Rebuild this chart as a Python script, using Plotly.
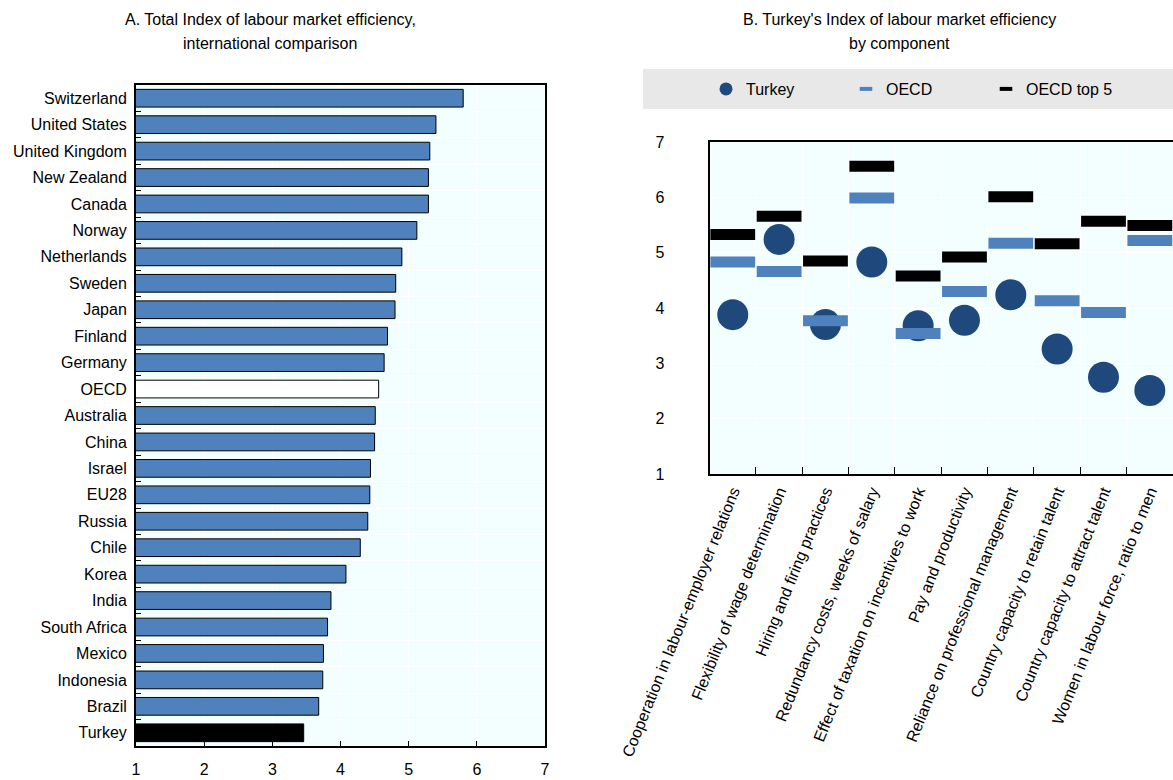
import plotly.graph_objects as go

# ---------- Panel A data ----------
countries = ["Switzerland", "United States", "United Kingdom", "New Zealand", "Canada",
             "Norway", "Netherlands", "Sweden", "Japan", "Finland", "Germany", "OECD",
             "Australia", "China", "Israel", "EU28", "Russia", "Chile", "Korea", "India",
             "South Africa", "Mexico", "Indonesia", "Brazil", "Turkey"]
total_index = [5.80, 5.40, 5.31, 5.29, 5.29, 5.12, 4.90, 4.81, 4.80, 4.69, 4.64, 4.56,
               4.51, 4.50, 4.44, 4.43, 4.40, 4.29, 4.08, 3.86, 3.81, 3.75, 3.74, 3.68, 3.46]

# ---------- Panel B data ----------
components = ["Cooperation in labour-employer relations",
              "Flexibility of wage determination",
              "Hiring and firing practices",
              "Redundancy costs, weeks of salary",
              "Effect of taxation on incentives to work",
              "Pay and productivity",
              "Reliance on professional management",
              "Country capacity to retain talent",
              "Country capacity to attract talent",
              "Women in labour force, ratio to men"]
turkey = [3.88, 5.24, 3.70, 4.83, 3.68, 3.78, 4.24, 3.26, 2.75, 2.51]
oecd = [4.83, 4.66, 3.77, 5.99, 3.54, 4.30, 5.17, 4.13, 3.92, 5.22]
oecd_top5 = [5.33, 5.66, 4.85, 6.56, 4.58, 4.92, 6.01, 5.16, 5.57, 5.49]

axis_ticks = [1, 2, 3, 4, 5, 6, 7]

W, H = 1173, 780
BLUE = "#4F81BD"
NAVY = "#1F497D"
BG = "#F3FEFF"
FONT = "Liberation Sans, Arial, sans-serif"
FS = 16

def px_x(p):
    return p / W

def px_y(p):
    return 1 - p / H

bar_colors = []
for c in countries:
    if c == "OECD":
        bar_colors.append("#FFFFFF")
    elif c == "Turkey":
        bar_colors.append("#000000")
    else:
        bar_colors.append(BLUE)

fig = go.Figure()

fig.add_trace(go.Bar(
    x=total_index, y=countries, orientation="h",
    marker=dict(color=bar_colors, line=dict(color="#000000", width=1)),
    xaxis="x", yaxis="y", showlegend=False, hoverinfo="x+y"))

fig.add_trace(go.Scatter(
    x=components, y=turkey, mode="markers", name="Turkey",
    marker=dict(symbol="circle", size=31, color=NAVY),
    xaxis="x2", yaxis="y2", showlegend=False, cliponaxis=False))
fig.add_trace(go.Scatter(
    x=components, y=oecd, mode="markers", name="OECD",
    marker=dict(symbol="line-ew", size=32, color=BLUE, line=dict(color=BLUE, width=11)),
    xaxis="x2", yaxis="y2", showlegend=False, cliponaxis=False))
fig.add_trace(go.Scatter(
    x=components, y=oecd_top5, mode="markers", name="OECD top 5",
    marker=dict(symbol="line-ew", size=32, color="#000000", line=dict(color="#000000", width=11)),
    xaxis="x2", yaxis="y2", showlegend=False, cliponaxis=False))

# legend-only entries (small symbols as in the reference legend)
fig.add_trace(go.Scatter(x=[None], y=[None], mode="markers", name="Turkey",
                         marker=dict(symbol="circle", size=13, color=NAVY),
                         xaxis="x2", yaxis="y2", showlegend=True))
fig.add_trace(go.Scatter(x=[None], y=[None], mode="markers", name="OECD",
                         marker=dict(symbol="line-ew", size=9, color=BLUE,
                                     line=dict(color=BLUE, width=4)),
                         xaxis="x2", yaxis="y2", showlegend=True))
fig.add_trace(go.Scatter(x=[None], y=[None], mode="markers", name="OECD top 5",
                         marker=dict(symbol="line-ew", size=9, color="#000000",
                                     line=dict(color="#000000", width=4)),
                         xaxis="x2", yaxis="y2", showlegend=True))

fig.update_layout(
    width=W, height=H,
    margin=dict(l=0, r=0, t=0, b=0),
    paper_bgcolor="white",
    plot_bgcolor=BG,
    font=dict(family=FONT, size=FS, color="#000000"),
    bargap=0.33,
    xaxis=dict(domain=[px_x(136), px_x(545)], range=[1, 7], tickvals=axis_ticks,
               showgrid=True, gridcolor="white", gridwidth=1,
               showline=True, linecolor="#000000", linewidth=2, mirror=True,
               ticks="inside", ticklen=5, tickcolor="#000000",
               ticklabelstandoff=8, zeroline=False, anchor="y", automargin=False),
    yaxis=dict(domain=[px_y(746), px_y(85)], type="category",
               categoryorder="array", categoryarray=countries, autorange="reversed",
               showgrid=True, gridcolor="white", gridwidth=1, tickson="boundaries",
               showline=True, linecolor="#000000", linewidth=2, mirror=True,
               ticks="inside", ticklen=5, tickcolor="#000000",
               ticklabelstandoff=4, anchor="x", automargin=False),
    xaxis2=dict(domain=[px_x(709.6), 1.0], type="category", range=[-0.5, 9.5],
                categoryorder="array", categoryarray=components,
                showgrid=True, gridcolor="white", gridwidth=1, tickson="boundaries",
                showline=True, linecolor="#000000", linewidth=2, mirror=True,
                ticks="inside", ticklen=7, tickcolor="#000000",
                tickangle=-68, anchor="y2", automargin=False),
    yaxis2=dict(domain=[px_y(474), px_y(142)], range=[1, 7], tickvals=axis_ticks,
                showgrid=True, gridcolor="white", gridwidth=1,
                showline=True, linecolor="#000000", linewidth=2,
                ticks="", ticklabelstandoff=40, zeroline=False,
                anchor="x2", automargin=False),
    legend=dict(orientation="h", x=px_x(706), y=px_y(89), xanchor="left", yanchor="middle",
                bgcolor="rgba(0,0,0,0)", entrywidth=95, entrywidthmode="pixels",
                font=dict(size=FS), traceorder="normal"),
    shapes=[dict(type="rect", xref="paper", yref="paper",
                 x0=px_x(643), x1=1.0, y0=px_y(109), y1=px_y(69),
                 fillcolor="#E8E8E8", line=dict(width=0), layer="below")],
    annotations=[
        dict(text="A. Total Index of labour market efficiency,", xref="paper", yref="paper",
             x=px_x(270), y=px_y(19), xanchor="center", yanchor="middle", showarrow=False,
             font=dict(size=FS)),
        dict(text="international comparison", xref="paper", yref="paper",
             x=px_x(270), y=px_y(43), xanchor="center", yanchor="middle", showarrow=False,
             font=dict(size=FS)),
        dict(text="B. Turkey's Index of labour market efficiency", xref="paper", yref="paper",
             x=px_x(899), y=px_y(19), xanchor="center", yanchor="middle", showarrow=False,
             font=dict(size=FS)),
        dict(text="by component", xref="paper", yref="paper",
             x=px_x(899), y=px_y(43), xanchor="center", yanchor="middle", showarrow=False,
             font=dict(size=FS)),
    ],
)

fig.write_html("out.html", config={"displayModeBar": False},
               post_script="document.body.style.margin='0';")
